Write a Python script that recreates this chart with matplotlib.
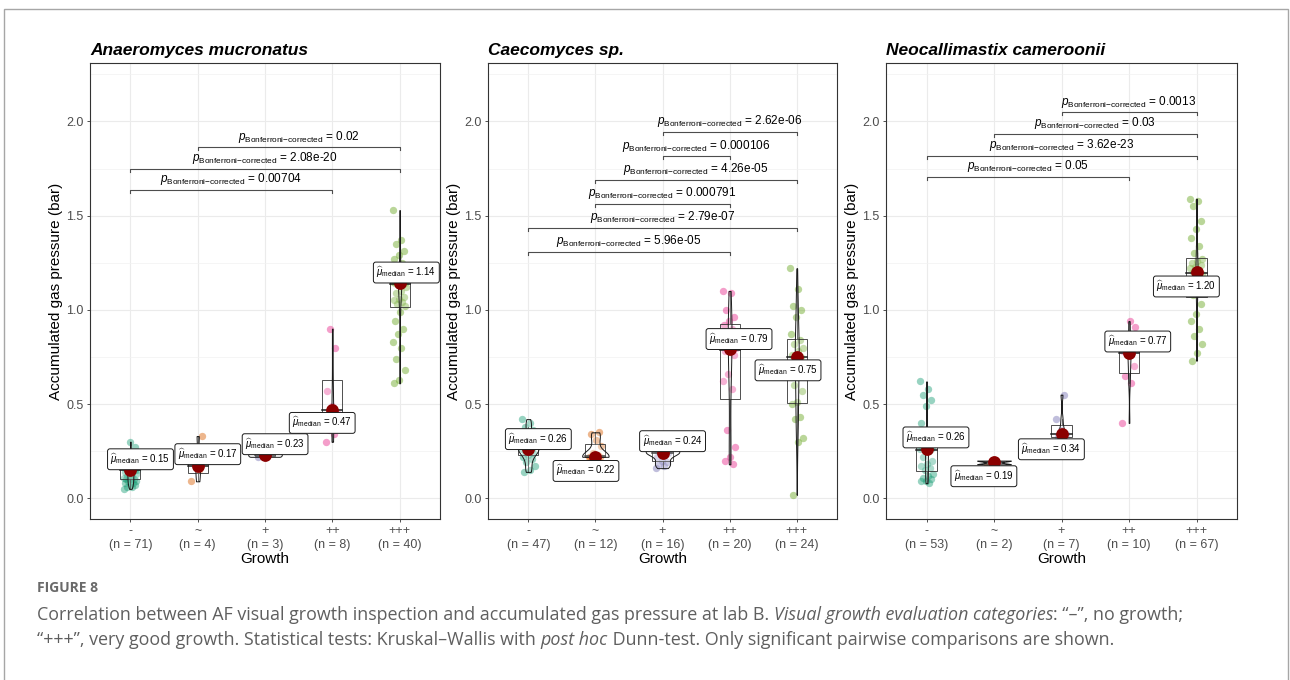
import numpy as np
import matplotlib
matplotlib.use('Agg')
import matplotlib.pyplot as plt
from matplotlib import font_manager
from matplotlib.patches import Rectangle

# pick a narrow Arial-like family when available
names = {f.name for f in font_manager.fontManager.ttflist}
FAM = 'Liberation Sans Narrow' if 'Liberation Sans Narrow' in names else 'Liberation Sans'
plt.rcParams['font.family'] = [FAM, 'DejaVu Sans']
plt.rcParams['mathtext.fontset'] = 'custom'
plt.rcParams['mathtext.rm'] = FAM
plt.rcParams['mathtext.it'] = FAM + ':italic'
plt.rcParams['mathtext.bf'] = FAM + ':bold'

########################
# Data
########################
categories = ['-', '~', '+', '++', '+++']
titles = ['Anaeromyces mucronatus', 'Caecomyces sp.', 'Neocallimastix cameroonii']
n_counts = [[71, 4, 3, 8, 40], [47, 12, 16, 20, 24], [53, 2, 7, 10, 67]]

anaero_medians = [0.15, 0.17, 0.23, 0.47, 1.14]
caeco_medians = [0.26, 0.22, 0.24, 0.79, 0.75]
neo_medians = [0.26, 0.19, 0.34, 0.77, 1.20]

# Anaeromyces mucronatus
anaero_minus = [0.05, 0.06, 0.06, 0.07, 0.07, 0.08, 0.08, 0.09, 0.09, 0.10, 0.10, 0.10, 0.11,
                0.11, 0.12, 0.12, 0.13, 0.13, 0.14, 0.15, 0.15, 0.15, 0.15, 0.15, 0.15, 0.16,
                0.16, 0.16, 0.16, 0.16, 0.16, 0.17, 0.17, 0.17, 0.18, 0.18, 0.20, 0.27, 0.30]
anaero_tilde = [0.09, 0.15, 0.19, 0.33]
anaero_plus = [0.22, 0.23, 0.24]
anaero_pp = [0.30, 0.34, 0.36, 0.45, 0.49, 0.57, 0.80, 0.90]
anaero_ppp = [1.53, 1.37, 1.35, 1.31, 1.29, 1.27, 1.25, 1.22, 1.20, 1.18, 1.16,
              1.15, 1.15, 1.15, 1.14, 1.14, 1.14, 1.14, 1.14, 1.14,
              1.13, 1.12, 1.10, 1.09, 1.07, 1.06, 1.05, 1.04, 1.03, 1.02,
              0.99, 0.94, 0.90, 0.87, 0.83, 0.80, 0.74, 0.68, 0.63, 0.61]

# Caecomyces sp.
caeco_minus = [0.42, 0.40, 0.38, 0.36, 0.33, 0.30, 0.29, 0.28, 0.28, 0.27, 0.27, 0.26,
               0.26, 0.26, 0.25, 0.25, 0.24, 0.23, 0.22, 0.21, 0.19, 0.17, 0.15, 0.14]
caeco_tilde = [0.22, 0.22, 0.22, 0.22, 0.22, 0.22, 0.23, 0.24, 0.28, 0.31, 0.34, 0.35]
caeco_plus = [0.16, 0.17, 0.18, 0.19, 0.20, 0.22, 0.23, 0.24, 0.24, 0.24, 0.25, 0.25,
              0.25, 0.26, 0.26, 0.27]
caeco_pp = [1.10, 1.09, 1.00, 0.96, 0.94, 0.92, 0.90, 0.86, 0.80, 0.79, 0.78, 0.76, 0.66,
            0.62, 0.58, 0.36, 0.27, 0.22, 0.20, 0.18]
caeco_ppp = [1.22, 1.11, 1.02, 1.00, 0.96, 0.87, 0.84, 0.82, 0.80, 0.78, 0.76, 0.75, 0.75,
             0.70, 0.65, 0.60, 0.57, 0.51, 0.50, 0.43, 0.42, 0.32, 0.30, 0.02]

# Neocallimastix cameroonii
neo_minus = [0.62, 0.58, 0.55, 0.52, 0.49, 0.40, 0.33, 0.28, 0.27, 0.27, 0.27, 0.26, 0.26,
             0.26, 0.25, 0.22, 0.20, 0.18, 0.17, 0.16, 0.15, 0.13, 0.12, 0.11, 0.10, 0.09,
             0.09, 0.08]
neo_tilde = [0.18, 0.20]
neo_plus = [0.30, 0.32, 0.33, 0.34, 0.36, 0.42, 0.55]
neo_pp = [0.40, 0.61, 0.65, 0.70, 0.76, 0.78, 0.79, 0.80, 0.91, 0.94]
neo_ppp = [1.59, 1.58, 1.55, 1.47, 1.43, 1.38, 1.34, 1.30, 1.27, 1.26, 1.25, 1.24, 1.23,
           1.22, 1.21, 1.20, 1.19, 1.17, 1.15, 1.13, 1.12, 1.10, 1.09, 1.08, 1.03, 0.98,
           0.94, 0.90, 0.86, 0.82, 0.77, 0.73]

# pairwise comparisons (group index pairs), p-values and bracket heights
anaero_pairs = [(0, 3), (0, 4), (1, 4)]
anaero_pvals = ['0.00704', '2.08e-20', '0.02']
anaero_bracket_y = [1.638, 1.750, 1.862]

caeco_pairs = [(0, 3), (0, 4), (1, 3), (1, 4), (2, 3), (2, 4)]
caeco_pvals = ['5.96e-05', '2.79e-07', '0.000791', '4.26e-05', '0.000106', '2.62e-06']
caeco_bracket_y = [1.309, 1.434, 1.562, 1.688, 1.814, 1.943]

neo_pairs = [(0, 3), (0, 4), (1, 4), (2, 4)]
neo_pvals = ['0.05', '3.62e-23', '0.03', '0.0013']
neo_bracket_y = [1.706, 1.817, 1.933, 2.048]

panels = [
    ([anaero_minus, anaero_tilde, anaero_plus, anaero_pp, anaero_ppp], anaero_medians,
     anaero_pairs, anaero_pvals, anaero_bracket_y),
    ([caeco_minus, caeco_tilde, caeco_plus, caeco_pp, caeco_ppp], caeco_medians,
     caeco_pairs, caeco_pvals, caeco_bracket_y),
    ([neo_minus, neo_tilde, neo_plus, neo_pp, neo_ppp], neo_medians,
     neo_pairs, neo_pvals, neo_bracket_y),
]

# where the median labels sit relative to the median point (layout only)
label_offsets = [
    [(0.15, 0.057), (0.15, 0.064), (0.15, 0.057), (-0.15, -0.070), (0.10, 0.058)],
    [(0.15, 0.054), (-0.14, -0.075), (0.15, 0.063), (0.14, 0.055), (-0.13, -0.071)],
    [(0.14, 0.063), (-0.15, -0.073), (-0.15, -0.080), (0.13, 0.062), (-0.15, -0.076)],
]

colors = ['#1B9E77', '#D95F02', '#7570B3', '#E7298A', '#66A61E']

W, H = 1290, 680
fig = plt.figure(figsize=(W / 100, H / 100), dpi=100)
fig.patch.set_facecolor('white')

# outer frame
fig.add_artist(Rectangle((4 / W, -0.05), 1284 / W, 1.05 - 9.5 / H, transform=fig.transFigure,
                         fill=False, edgecolor='#A6A6A6', lw=1.0))


def violin_curve(vals):
    v = np.asarray(vals, float)
    n = len(v)
    sd = v.std(ddof=1)
    q75, q25 = np.percentile(v, [75, 25])
    lo = min(sd, (q75 - q25) / 1.34)
    if lo <= 0:
        lo = sd
    bw = 0.9 * lo * n ** -0.2
    ys = np.linspace(v.min(), v.max(), 256)
    dens = np.exp(-0.5 * ((ys[:, None] - v[None, :]) / bw) ** 2).sum(1) / (n * bw * np.sqrt(2 * np.pi))
    return ys, dens


ax_left = [90, 488, 886]
ax_width = [350, 349, 351]
ax_top, ax_bottom = 63, 519

for k, (groups, meds, pairs, pvals, br_y) in enumerate(panels):
    ax = fig.add_axes([ax_left[k] / W, 1 - ax_bottom / H, ax_width[k] / W, (ax_bottom - ax_top) / H])
    ax.set_xlim(0.4, 5.6)
    ax.set_ylim(-0.11, 2.31)

    # violins (area scaled within the panel)
    curves = [violin_curve(g) for g in groups]
    dmax = max(d.max() for _, d in curves)

    for i, g in enumerate(groups):
        x = i + 1
        v = np.asarray(g, float)
        # jittered points
        jit = ((np.arange(len(v)) * 0.618034) % 1 - 0.5) * 0.2
        ax.scatter(x + jit, v, s=28, color=colors[i], alpha=0.45, lw=0, zorder=2)

        # box
        q1, q2, q3 = np.percentile(v, [25, 50, 75])
        iqr = q3 - q1
        lo_w = v[v >= q1 - 1.5 * iqr].min()
        hi_w = v[v <= q3 + 1.5 * iqr].max()
        ax.add_patch(Rectangle((x - 0.15, q1), 0.3, iqr, facecolor=(1, 1, 1, 0.2),
                               edgecolor='#333333', lw=0.6, zorder=3))
        ax.plot([x - 0.15, x + 0.15], [q2, q2], color='#1A1A1A', lw=1.1, zorder=3)
        ax.plot([x, x], [q3, hi_w], color='#333333', lw=0.6, zorder=3)
        ax.plot([x, x], [lo_w, q1], color='#333333', lw=0.6, zorder=3)

        # violin
        ys, d = curves[i]
        half = d / dmax * 0.25
        ax.fill_betweenx(ys, x - half, x + half, facecolor=(1, 1, 1, 0.2),
                         edgecolor='#1A1A1A', lw=0.7, zorder=4)

        # median point and label
        ax.scatter([x], [meds[i]], s=85, color='#8B0000', zorder=5, lw=0)
        dx, dy = label_offsets[k][i]
        ax.text(x + dx, meds[i] + dy, r'$\widehat{\mu}_{\mathrm{median}}$ = %.2f' % meds[i],
                ha='center', va='center', fontsize=7, zorder=6,
                bbox=dict(boxstyle='round,pad=0.3,rounding_size=0.25', fc='white',
                          ec='#1A1A1A', lw=0.7))

    # significance brackets
    tip = 0.016
    for (i, j), p, y in zip(pairs, pvals, br_y):
        ax.plot([i + 1, i + 1, j + 1, j + 1], [y - tip, y, y, y - tip], color='#4D4D4D', lw=0.8,
                zorder=3)
        ax.text((i + j) / 2 + 1, y + 0.015,
                r'$\mathit{p}_{\mathrm{Bonferroni{-}corrected}}$ = ' + p,
                ha='center', va='bottom', fontsize=8.5, zorder=6)

    # axes styling (theme_bw look)
    ax.set_yticks([0, 0.5, 1.0, 1.5, 2.0])
    ax.set_yticklabels(['0.0', '0.5', '1.0', '1.5', '2.0'])
    ax.set_yticks([0.25, 0.75, 1.25, 1.75, 2.25], minor=True)
    ax.set_xticks(range(1, 6))
    ax.set_xticklabels([f'{c}\n(n = {n})' for c, n in zip(categories, n_counts[k])],
                       linespacing=1.15)
    ax.tick_params(axis='both', which='major', labelsize=9, labelcolor='#4D4D4D',
                   color='#333333', length=2.5, width=0.6, pad=2)
    ax.tick_params(which='minor', length=0)
    ax.grid(which='major', color='#EBEBEB', lw=0.8)
    ax.grid(which='minor', axis='y', color='#F2F2F2', lw=0.5)
    ax.set_axisbelow(True)
    for sp in ax.spines.values():
        sp.set_color('#333333')
        sp.set_linewidth(0.8)

    ax.set_ylabel('Accumulated gas pressure (bar)', fontsize=11)
    ax.yaxis.set_label_coords(-27 / ax_width[k], 0.5)
    ax.set_xlabel('Growth', fontsize=11)
    ax.xaxis.set_label_coords(0.5, -0.072)
    ax.text(0, 1 + 8 / (ax_bottom - ax_top), titles[k], transform=ax.transAxes,
            fontsize=12.5, fontweight='bold', fontstyle='italic', va='baseline', ha='left')

########################
# Caption below the panels
########################
cap_font = ['Open Sans', 'DejaVu Sans']
cap_color = '#5F5F5F'
cap_size = 12.9
fig.text(37 / W, 1 - 588 / H, 'FIGURE 8', family=cap_font, fontsize=10, fontweight='bold',
         color='#6A6A6A', va='center')

renderer = fig.canvas.get_renderer()


def text_width(s, style):
    t1 = fig.text(0, 0, '|' + s + '|', family=cap_font, fontsize=cap_size, fontstyle=style)
    t2 = fig.text(0, 0, '||', family=cap_font, fontsize=cap_size, fontstyle=style)
    w = t1.get_window_extent(renderer).width - t2.get_window_extent(renderer).width
    t1.remove()
    t2.remove()
    return w


def caption_line(y_px, parts):
    x = 37.0
    for s, style in parts:
        fig.text(x / W, 1 - y_px / H, s, family=cap_font, fontsize=cap_size, fontstyle=style,
                 color=cap_color, va='center', ha='left')
        x += text_width(s, style)


caption_line(615, [
    ('Correlation between AF visual growth inspection and accumulated gas pressure at lab B. ', 'normal'),
    ('Visual growth evaluation categories', 'italic'),
    (': \u201c\u2013\u201d, no growth;', 'normal'),
])
caption_line(640, [
    ('\u201c+++\u201d, very good growth. Statistical tests: Kruskal\u2013Wallis with ', 'normal'),
    ('post hoc', 'italic'),
    (' Dunn-test. Only significant pairwise comparisons are shown.', 'normal'),
])

fig.savefig('out.png', dpi=100)
